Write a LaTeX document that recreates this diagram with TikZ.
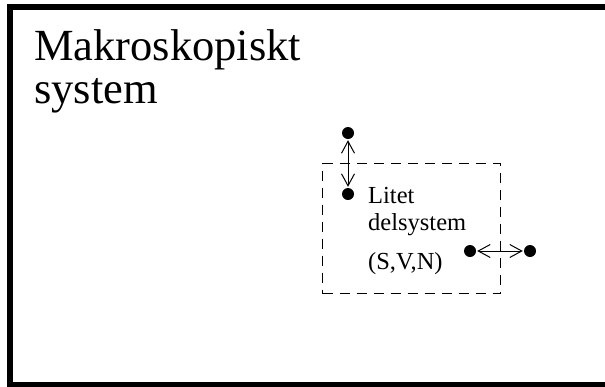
\documentclass[tikz,border=0pt]{standalone}
\usepackage{fontspec}
\setmainfont{Liberation Serif}
\usetikzlibrary{arrows.meta}
\begin{document}
\begin{tikzpicture}[x=1pt,y=-1pt,
  dot/.style={circle,fill=black,inner sep=0pt,minimum size=12pt},
  link/.style={{Straight Barb[length=12pt,width=13pt]}-{Straight Barb[length=12pt,width=13pt]},line width=1pt,shorten <=1pt,shorten >=1pt},
  big/.style={font=\fontsize{44.5}{46}\selectfont,inner sep=0pt,anchor=base west},
  small/.style={font=\fontsize{24.5}{28}\selectfont,inner sep=0pt,anchor=base west}]
\useasboundingbox (0,0) rectangle (605,386);
\begin{scope}
\clip (0,0) rectangle (605,386);
\draw[line width=6pt] (10,7) rectangle (620,385);
\end{scope}
\node[big] (t1) at (34,60) {Makroskopiskt};
\node[big] (t2) at (34,103) {system};
\node[draw,line width=1pt,dash pattern=on 10pt off 7pt,inner sep=0pt,minimum width=178pt,minimum height=130pt,anchor=north west] (sub) at (322,163) {};
\node[small] (l1) at (368,203) {Litet};
\node[small] (l2) at (368,230) {delsystem};
\node[small] (l3) at (368,269) {(S,V,N)};
\node[dot] (a) at (348,133) {};
\node[dot] (b) at (348,194) {};
\node[dot] (c) at (470,251) {};
\node[dot] (d) at (530,251) {};
\draw[link] (a) -- (b);
\draw[link] (c) -- (d);
\end{tikzpicture}
\end{document}
